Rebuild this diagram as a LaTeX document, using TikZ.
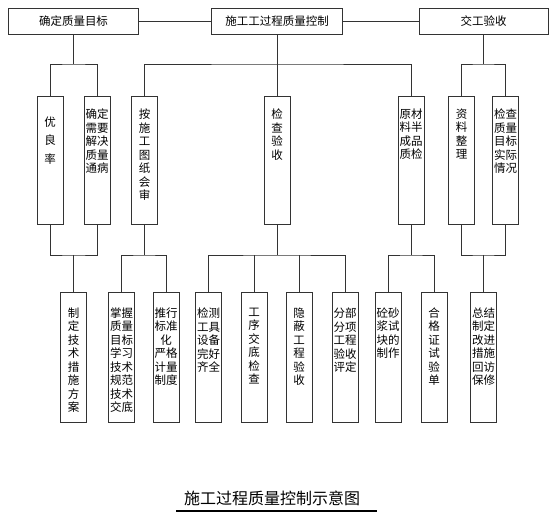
\documentclass[tikz,border=0pt]{standalone}
\usepackage{fontspec}
\setmainfont{Noto Sans CJK SC}
\usetikzlibrary{positioning}
\newcommand{\boxfont}{\fontsize{11.5pt}{13.5pt}\selectfont}
\newcommand{\widefont}{\fontsize{11.5pt}{18.5pt}\selectfont}
\newcommand{\titlefont}{\fontsize{16pt}{18pt}\selectfont}

\begin{document}
\begin{tikzpicture}[
      x=1pt, y=-1pt,
      every node/.style={font=\boxfont},
      line/.style={draw=black!80, line width=0.8pt},
      topbox/.style={
        rectangle, draw=black!80, line width=0.8pt, inner sep=0pt,
        minimum width=130pt, minimum height=26pt
      },
      midbox/.style={
        rectangle, draw=black!80, line width=0.8pt, inner sep=0pt,
        minimum width=26pt, minimum height=128pt
      },
      lowbox/.style={midbox, minimum height=130pt},
      midtext/.style={anchor=north, inner sep=0pt, align=center, yshift=-13pt},
      lowtext/.style={anchor=north, inner sep=0pt, align=center, yshift=-16pt}
    ]
    \useasboundingbox (0,0) rectangle (555,521);

    % ===== Top row =====
    \node[topbox] (goal) at (73.5, 21) {确定质量目标};
    \node[topbox, minimum width=131pt] (ctrl) at (277, 21) {施工工过程质量控制};
    \node[topbox, minimum width=129pt] (accept) at (483.5, 21) {交工验收};

    % ===== Second row =====
    \node[midbox, label={[midtext, yshift=-8pt, font=\widefont]north:优\\良\\率}] (l2a) at (50, 160) {};
    \node[midbox, label={[midtext]north:确定\\需要\\解决\\质量\\通病}] (l2b) at (97, 160) {};
    \node[midbox, label={[midtext]north:按\\施\\工\\图\\纸\\会\\审}] (l2c) at (144.5, 160) {};
    \node[midbox, label={[midtext]north:检\\查\\验\\收}] (l2d) at (277, 160) {};
    \node[midbox, label={[midtext]north:原材\\料半\\成品\\质检}] (l2e) at (411, 160) {};
    \node[midbox, label={[midtext]north:资\\料\\整\\理}] (l2f) at (461.5, 160) {};
    \node[midbox, label={[midtext]north:检查\\质量\\目标\\实际\\情况}] (l2g) at (505.5, 160) {};

    % ===== Third row =====
    \node[lowbox, label={[lowtext]north:制\\定\\技\\术\\措\\施\\方\\案}] (l3a) at (73.5, 357) {};
    \node[lowbox, label={[lowtext]north:掌握\\质量\\目标\\学习\\技术\\规范\\技术\\交底}] (l3b) at (121.5, 357) {};
    \node[lowbox, label={[lowtext]north:推行\\标准\\化\\严格\\计量\\制度}] (l3c) at (166, 357) {};
    \node[lowbox, label={[lowtext]north:检测\\工具\\设备\\完好\\齐全}] (l3d) at (208.5, 357) {};
    \node[lowbox, label={[lowtext]north:工\\序\\交\\底\\检\\查}] (l3e) at (254, 357) {};
    \node[lowbox, label={[lowtext]north:隐\\蔽\\工\\程\\验\\收}] (l3f) at (299, 357) {};
    \node[lowbox, label={[lowtext]north:分部\\分项\\工程\\验收\\评定}] (l3g) at (345, 357) {};
    \node[lowbox, label={[lowtext]north:砼砂\\浆试\\块的\\制作}] (l3h) at (388, 357) {};
    \node[lowbox, label={[lowtext]north:合\\格\\证\\试\\验\\单}] (l3i) at (434, 357) {};
    \node[lowbox, label={[lowtext]north:总结\\制定\\改进\\措施\\回访\\保修}] (l3j) at (483.5, 357) {};

    % ===== Title =====
    \node[font=\titlefont] (title) at (272, 498) {施工过程质量控制示意图};
    \draw[line width=1.8pt] (176, 511) -- (377, 511);

    % ===== Branch points =====
    \coordinate (f1) at (73.5, 64);
    \coordinate (f2) at (277, 64);
    \coordinate (f3) at (483.5, 64);
    \coordinate (g1) at (73.5, 255);
    \coordinate (g2) at (144.5, 255);
    \coordinate (g3) at (277, 255);
    \coordinate (g4) at (411, 255);
    \coordinate (g5) at (483.5, 255);

    % ===== Top links =====
    \draw[line] (goal) -- (ctrl);
    \draw[line] (ctrl) -- (accept);

    % ===== Top row into second row =====
    \draw[line] (goal) -- (f1);
    \draw[line] (l2a) |- (f1) -| (l2b);
    \draw[line] (ctrl) -- (l2d);
    \draw[line] (l2c) |- (f2) -| (l2e);
    \draw[line] (accept) -- (f3);
    \draw[line] (l2f) |- (f3) -| (l2g);

    % ===== Second row into third row =====
    \draw[line] (l2a) |- (g1) -| (l2b);
    \draw[line] (g1) -- (l3a);
    \draw[line] (l2c) -- (g2);
    \draw[line] (l3b) |- (g2) -| (l3c);
    \draw[line] (l2d) -- (g3);
    \draw[line] (l3d) |- (g3) -| (l3g);
    \foreach \n in {l3e, l3f}
      \draw[line] (\n) -- (\n |- g3);
    \draw[line] (l2e) -- (g4);
    \draw[line] (l3h) |- (g4) -| (l3i);
    \draw[line] (l2f) |- (g5) -| (l2g);
    \draw[line] (g5) -- (l3j);
  \end{tikzpicture}
\end{document}
